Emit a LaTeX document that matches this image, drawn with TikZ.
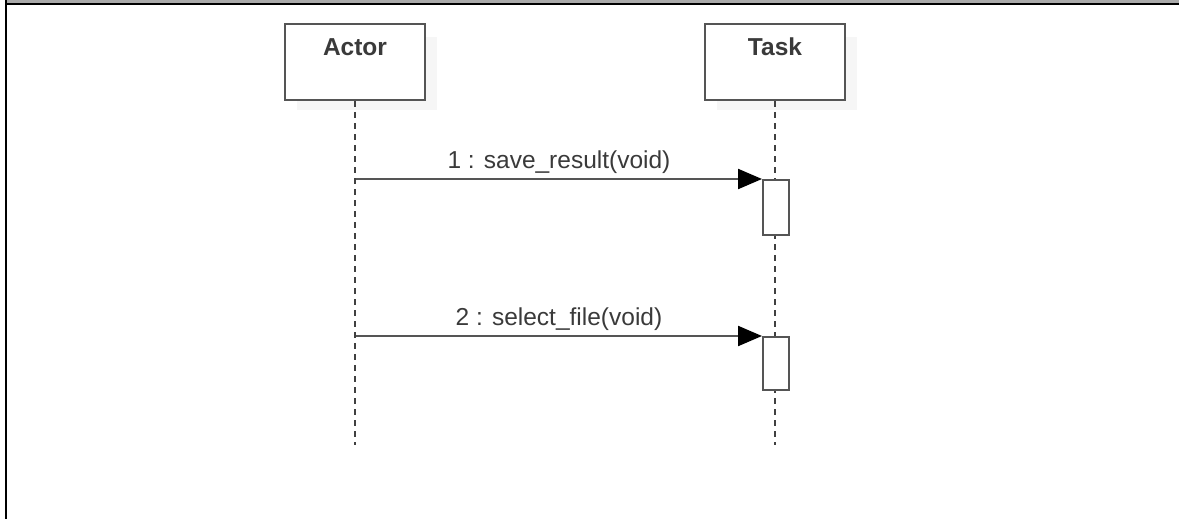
\documentclass[tikz,border=0pt]{standalone}
\usepackage{fontspec}
\setmainfont{Liberation Sans}
\usetikzlibrary{arrows.meta}
\definecolor{lineg}{HTML}{555555}
\definecolor{txtg}{HTML}{3A3A3A}
\definecolor{shadowg}{HTML}{F6F6F6}
\definecolor{barg}{HTML}{AAAAAA}
\tikzset{
  objbox/.style={draw=lineg, line width=2pt, fill=white, minimum width=140pt, minimum height=76pt, inner sep=0pt, anchor=north west},
  objshadow/.style={fill=shadowg, minimum width=140pt, minimum height=73pt, inner sep=0pt, anchor=north west},
  objtext/.style={font=\fontsize{24.5}{28}\selectfont\bfseries, text=txtg, inner sep=0pt},
  lifeline/.style={draw=black!75, line width=1.6pt, dash pattern=on 6pt off 5pt},
  actbox/.style={draw=lineg, line width=2pt, fill=white, minimum width=26pt, inner sep=0pt, anchor=north west},
  msg/.style={draw=lineg, line width=2.2pt, -{Triangle[length=24pt,width=20pt,color=black,fill=black]}},
  msgtext/.style={font=\fontsize{24.5}{28}\selectfont, text=txtg, inner sep=0pt, anchor=base, yshift=11pt},
}
\begin{document}
\begin{tikzpicture}[x=1pt,y=-1pt]
\useasboundingbox (0,0) rectangle (1179,519);
% frame
\fill[barg] (7,0) rectangle (1179,3);
\fill[black] (5,3) rectangle (1179,5);
\fill[black] (5,0) rectangle (7,519);
% shadows
\node[objshadow] (actorsh) at (297,37) {};
\node[objshadow] (tasksh) at (717,37) {};
% objects
\node[objbox, label={[objtext, anchor=north, yshift=-15pt]north:Actor}] (actor) at (284,23) {};
\node[objbox, label={[objtext, anchor=north, yshift=-15pt]north:Task}] (task) at (704,23) {};
% lifeline ends
\coordinate (actorend) at (355,445);
\coordinate (taskend) at (775,445);
\draw[lifeline] (actor.south) -- (actorend);
\draw[lifeline] (task.south) -- (taskend);
% activations
\node[actbox, minimum height=55pt] (act1) at (762,179) {};
\node[actbox, minimum height=53pt] (act2) at (762,336) {};
% messages
\coordinate (m1s) at (356,179);
\coordinate (m2s) at (356,336);
\draw[msg] (m1s) -- (act1.north west) node[msgtext, pos=0.5] {1 : save\_result(void)};
\draw[msg] (m2s) -- (act2.north west) node[msgtext, pos=0.5] {2 : select\_file(void)};
\end{tikzpicture}
\end{document}
